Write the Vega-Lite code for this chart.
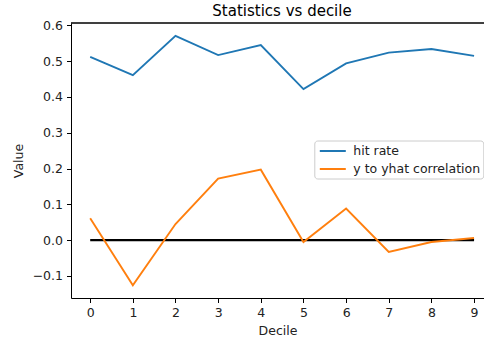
{
  "$schema": "https://vega.github.io/schema/vega-lite/v6.json",
  "autosize": {"type": "none"},
  "padding": {"left": 71, "top": 23, "right": 0, "bottom": 43},
  "width": 413,
  "height": 275,
  "title": {"text": "Statistics vs decile", "fontSize": 15, "fontWeight": "normal", "font": "DejaVu Sans", "color": "#000000", "anchor": "middle", "baseline": "alphabetic", "offset": 6, "dy": 17.5, "dx": 4.5},
  "config": {
    "view": {"stroke": null},
    "font": "DejaVu Sans",
    "axis": {"grid": false, "domainColor": "#000000", "domainWidth": 1, "tickColor": "#000000", "tickWidth": 1, "tickSize": 4.5, "labelPadding": 4, "labelOverlap": false, "labelFont": "DejaVu Sans", "labelFontSize": 12.5, "labelColor": "#222222", "titleFont": "DejaVu Sans", "titleFontSize": 12.5, "titleFontWeight": "normal", "titleColor": "#222222"}
  },
  "datasets": {
    "stats": [
      {"Decile": 0, "Value": 0.512, "series": "hit rate"},
      {"Decile": 1, "Value": 0.461, "series": "hit rate"},
      {"Decile": 2, "Value": 0.571, "series": "hit rate"},
      {"Decile": 3, "Value": 0.517, "series": "hit rate"},
      {"Decile": 4, "Value": 0.545, "series": "hit rate"},
      {"Decile": 5, "Value": 0.422, "series": "hit rate"},
      {"Decile": 6, "Value": 0.494, "series": "hit rate"},
      {"Decile": 7, "Value": 0.524, "series": "hit rate"},
      {"Decile": 8, "Value": 0.534, "series": "hit rate"},
      {"Decile": 9, "Value": 0.515, "series": "hit rate"},
      {"Decile": 0, "Value": 0.061, "series": "y to yhat correlation"},
      {"Decile": 1, "Value": -0.126, "series": "y to yhat correlation"},
      {"Decile": 2, "Value": 0.045, "series": "y to yhat correlation"},
      {"Decile": 3, "Value": 0.172, "series": "y to yhat correlation"},
      {"Decile": 4, "Value": 0.197, "series": "y to yhat correlation"},
      {"Decile": 5, "Value": -0.005, "series": "y to yhat correlation"},
      {"Decile": 6, "Value": 0.0885, "series": "y to yhat correlation"},
      {"Decile": 7, "Value": -0.033, "series": "y to yhat correlation"},
      {"Decile": 8, "Value": -0.005, "series": "y to yhat correlation"},
      {"Decile": 9, "Value": 0.006, "series": "y to yhat correlation"}
    ],
    "zero": [
      {"Decile": 0, "Value": 0},
      {"Decile": 9, "Value": 0}
    ]
  },
  "encoding": {
    "x": {"field": "Decile", "type": "quantitative", "scale": {"domain": [-0.45, 9.233], "nice": false, "zero": false},
          "axis": {"values": [0, 1, 2, 3, 4, 5, 6, 7, 8, 9], "format": "d", "title": "Decile", "titlePadding": 5, "labelOverlap": false}},
    "y": {"field": "Value", "type": "quantitative", "scale": {"domain": [-0.1615, 0.6067], "nice": false, "zero": false},
          "axis": {"values": [-0.1, 0, 0.1, 0.2, 0.3, 0.4, 0.5, 0.6], "format": ".1f", "title": "Value", "titlePadding": 7, "labelOverlap": false, "tickCount": 8}}
  },
  "layer": [
    {
      "data": {"name": "zero"},
      "mark": {"type": "rule", "color": "#000000", "strokeWidth": 1},
      "encoding": {"x": null, "y": {"datum": 0.6067, "type": "quantitative"}}
    },
    {
      "data": {"name": "zero"},
      "mark": {"type": "line", "color": "#000000", "strokeWidth": 2.2}
    },
    {
      "data": {"name": "stats"},
      "mark": {"type": "line", "strokeWidth": 1.9},
      "encoding": {
        "color": {"field": "series", "type": "nominal",
                  "scale": {"domain": ["hit rate", "y to yhat correlation"], "range": ["#1f77b4", "#ff7f0e"]},
                  "legend": {"title": null, "orient": "none", "legendX": 243.3, "legendY": 117.5, "padding": 3, "strokeColor": "#cccccc", "cornerRadius": 3, "fillColor": "rgba(255,255,255,0.8)", "symbolType": "M-2,0H2", "symbolSize": 169, "symbolOffset": 8, "symbolStrokeWidth": 2, "symbolFillColor": "transparent", "labelOffset": 13, "labelFontSize": 12.5, "labelFont": "DejaVu Sans", "labelColor": "#222222", "rowPadding": 4}}
      }
    }
  ]
}
